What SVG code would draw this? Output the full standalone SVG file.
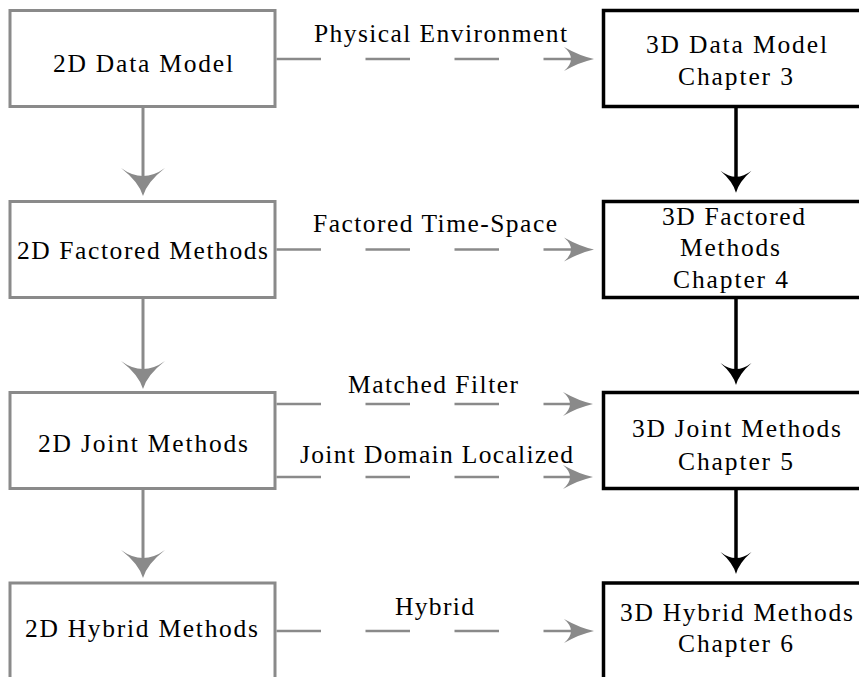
<svg xmlns="http://www.w3.org/2000/svg" width="859" height="677" viewBox="0 0 859 677" font-family="Liberation Serif, DejaVu Serif, serif">
<style>
  .t { font-family: "Liberation Serif", "DejaVu Serif", serif; font-size: 25.5px; fill: #000; }
  .b2 { fill: #fff; stroke: #8a8a8a; stroke-width: 3; }
  .b3 { fill: #fff; stroke: #000; stroke-width: 3.5; }
  .dash { stroke: #8a8a8a; stroke-width: 2.5; fill: none; stroke-dasharray: 44.5 44.5; }
  .vg { stroke: #8a8a8a; stroke-width: 3; fill: none; }
  .vb { stroke: #000; stroke-width: 3.5; fill: none; }
</style>
<defs>
  <marker id="ahH" markerUnits="userSpaceOnUse" orient="auto" overflow="visible" markerWidth="1" markerHeight="1" refX="0" refY="0">
    <path d="M8,0 Q-6,-3 -22,-12 Q-8,0 -22,12 Q-6,3 8,0 Z" fill="#8a8a8a"/>
  </marker>
  <marker id="ahG" markerUnits="userSpaceOnUse" orient="auto" overflow="visible" markerWidth="1" markerHeight="1" refX="0" refY="0">
    <path d="M8,0 Q-6,-4 -20,-22 Q-4,0 -20,22 Q-6,4 8,0 Z" fill="#8a8a8a"/>
  </marker>
  <marker id="ahB" markerUnits="userSpaceOnUse" orient="auto" overflow="visible" markerWidth="1" markerHeight="1" refX="0" refY="0">
    <path d="M6,0 Q-5,-3 -16,-15.5 Q-4,0 -16,15.5 Q-5,3 6,0 Z" fill="#000"/>
  </marker>
</defs>

<g id="connectors">
  <line class="vg" x1="143" y1="106.5" x2="143" y2="188" marker-end="url(#ahG)"/>
  <line class="vg" x1="143" y1="297.5" x2="143" y2="381" marker-end="url(#ahG)"/>
  <line class="vg" x1="143" y1="488.5" x2="143" y2="570" marker-end="url(#ahG)"/>
  <line class="vb" x1="736" y1="106.5" x2="736" y2="186.7" marker-end="url(#ahB)"/>
  <line class="vb" x1="736" y1="297.5" x2="736" y2="379" marker-end="url(#ahB)"/>
  <line class="vb" x1="736" y1="488.5" x2="736" y2="568" marker-end="url(#ahB)"/>
  <line class="dash" x1="276.5" y1="59" x2="586" y2="59" marker-end="url(#ahH)"/>
  <line class="dash" x1="276.5" y1="249.5" x2="586" y2="249.5" marker-end="url(#ahH)"/>
  <line class="dash" x1="276.5" y1="404" x2="585" y2="404" marker-end="url(#ahH)"/>
  <line class="dash" x1="276.5" y1="477" x2="585" y2="477" marker-end="url(#ahH)"/>
  <line class="dash" x1="276.5" y1="631" x2="586" y2="631" marker-end="url(#ahH)"/>
  <text class="t" font-family="Liberation Serif, serif" x="314" y="42" textLength="253" lengthAdjust="spacing">Physical Environment</text>
  <text class="t" font-family="Liberation Serif, serif" x="313" y="232" textLength="244" lengthAdjust="spacing">Factored Time-Space</text>
  <text class="t" font-family="Liberation Serif, serif" x="348" y="393" textLength="170" lengthAdjust="spacing">Matched Filter</text>
  <text class="t" font-family="Liberation Serif, serif" x="300" y="463" textLength="273" lengthAdjust="spacing">Joint Domain Localized</text>
  <text class="t" font-family="Liberation Serif, serif" x="395" y="615" textLength="79" lengthAdjust="spacing">Hybrid</text>
</g>

<g id="n2d-data">
  <rect class="b2" x="10" y="10.5" width="265" height="96"/>
  <text class="t" x="53" y="72" textLength="180" lengthAdjust="spacing">2D Data Model</text>
</g>
<g id="n2d-factored">
  <rect class="b2" x="10" y="201.5" width="265" height="96"/>
  <text class="t" x="17" y="259" textLength="251" lengthAdjust="spacing">2D Factored Methods</text>
</g>
<g id="n2d-joint">
  <rect class="b2" x="10" y="392.5" width="265" height="96"/>
  <text class="t" x="38" y="452" textLength="210" lengthAdjust="spacing">2D Joint Methods</text>
</g>
<g id="n2d-hybrid">
  <rect class="b2" x="10" y="583" width="265" height="96"/>
  <text class="t" x="25" y="637" textLength="233" lengthAdjust="spacing">2D Hybrid Methods</text>
</g>

<g id="n3d-data">
  <rect class="b3" x="603.5" y="10.5" width="265" height="96"/>
  <text class="t" x="646" y="53" textLength="181" lengthAdjust="spacing">3D Data Model</text>
  <text class="t" x="678" y="85" textLength="115" lengthAdjust="spacing">Chapter 3</text>
</g>
<g id="n3d-factored">
  <rect class="b3" x="603.5" y="201.5" width="265" height="96"/>
  <text class="t" x="662" y="224.5" textLength="143" lengthAdjust="spacing">3D Factored</text>
  <text class="t" x="680" y="256" textLength="100" lengthAdjust="spacing">Methods</text>
  <text class="t" x="673" y="288" textLength="115" lengthAdjust="spacing">Chapter 4</text>
</g>
<g id="n3d-joint">
  <rect class="b3" x="603.5" y="392.5" width="265" height="96"/>
  <text class="t" x="632" y="437" textLength="209" lengthAdjust="spacing">3D Joint Methods</text>
  <text class="t" x="678" y="470" textLength="115" lengthAdjust="spacing">Chapter 5</text>
</g>
<g id="n3d-hybrid">
  <rect class="b3" x="603.5" y="583" width="265" height="96"/>
  <text class="t" x="620" y="621" textLength="233" lengthAdjust="spacing">3D Hybrid Methods</text>
  <text class="t" x="678" y="652" textLength="115" lengthAdjust="spacing">Chapter 6</text>
</g>
</svg>
